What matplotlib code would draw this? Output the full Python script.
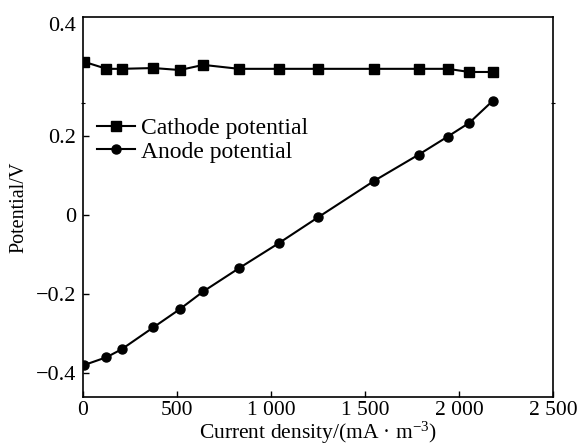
import numpy as np
import matplotlib
matplotlib.use("Agg")
import matplotlib.pyplot as plt

plt.rcParams['font.family'] = ['Liberation Serif', 'DejaVu Serif']
plt.rcParams['mathtext.fontset'] = 'custom'
plt.rcParams['mathtext.rm'] = 'Liberation Serif'
plt.rcParams['mathtext.it'] = 'Liberation Serif:italic'

# current density (mA/m3)
current = [5, 125, 205, 375, 515, 640, 830, 1040, 1250, 1550, 1785, 1940, 2055, 2180]
cathode = [0.389, 0.371, 0.371, 0.373, 0.368, 0.381, 0.371, 0.371, 0.371,
           0.371, 0.371, 0.371, 0.363, 0.363]
anode = [-0.381, -0.361, -0.341, -0.285, -0.239, -0.194, -0.135, -0.072,
         -0.006, 0.087, 0.153, 0.199, 0.234, 0.290]

xticks = [0, 500, 1000, 1500, 2000, 2500]
xticklabels = ['0', '500', '1 000', '1 500', '2 000', '2 500']
yticks = [-0.4, -0.2, 0.0, 0.2, 0.485]
yticklabels = ['\u22120.4', '\u22120.2', '0', '0.2', '0.4']

fig = plt.figure(figsize=(5.78, 4.48), dpi=100)
ax = fig.add_axes([0.1436, 0.1138, 0.8131, 0.8482])

ax.plot(current, cathode, 'k-s', lw=1.5, ms=6.5, label='Cathode potential')
ax.plot(current, anode, 'k-o', lw=1.5, ms=6.5, label='Anode potential')

ax.set_xlim(0, 2500)
ax.set_ylim(-0.462, 0.5025)
ax.set_xticks(xticks)
ax.set_xticklabels(xticklabels)
ax.set_yticks(yticks)
ax.set_yticklabels(yticklabels)
ax.set_yticks([0.284], minor=True)
ax.tick_params(which='major', direction='in', length=4, width=1,
               labelsize=16, pad=5)
ax.tick_params(axis='x', which='major', labelsize=15.5, pad=3)
ax.tick_params(which='minor', direction='inout', length=3, width=0.8,
               left=True, right=True)
ax.yaxis.get_major_ticks()[-1].tick1line.set_visible(False)
for s in ax.spines.values():
    s.set_linewidth(1.2)

ax.set_xlabel('Current density/(mA \u00b7 m$^{-3}$)', fontsize=15.5, labelpad=0)
ax.set_ylabel('Potential/V', fontsize=14.5, labelpad=5)

ax.legend(loc='upper left', bbox_to_anchor=(0.03, 0.735), frameon=False,
          fontsize=17, handlelength=1.6, handletextpad=0.25, labelspacing=0.08,
          borderpad=0, borderaxespad=0)

fig.savefig('out.png', dpi=100)
